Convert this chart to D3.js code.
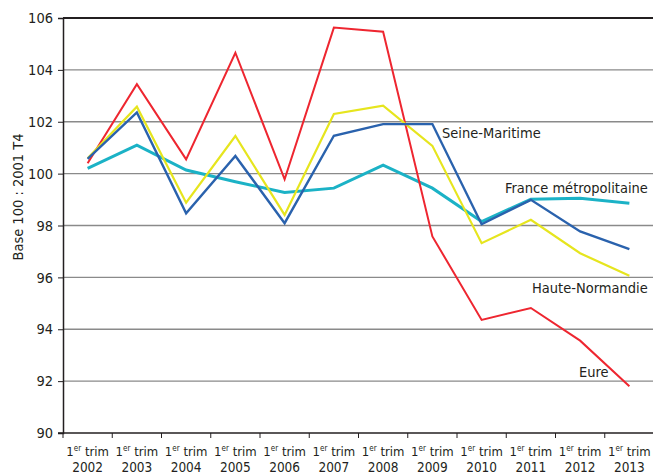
<!DOCTYPE html>
<html>
<head>
<meta charset="utf-8">
<script src="https://cdn.jsdelivr.net/npm/d3@7"></script>
<style>
  body { margin: 0; background: #fff; }
  svg text { font-family: "Liberation Sans Narrow", "DejaVu Sans Condensed", "Roboto", sans-serif; fill: #231f20; }
</style>
</head>
<body>
<div id="chart"></div>
<script>
// data (base 100 : 2001 T4)
var years = ["2002","2003","2004","2005","2006","2007","2008","2009","2010","2011","2012","2013"];
var eure = [100.4, 103.45, 100.55, 104.66, 99.78, 105.63, 105.47, 97.58, 94.36, 94.82, 93.56, 91.8];
var hauteNormandie = [100.59, 102.58, 98.88, 101.45, 98.41, 102.3, 102.62, 101.07, 97.32, 98.22, 96.93, 96.06];
var seineMaritime = [100.57, 102.36, 98.47, 100.68, 98.09, 101.46, 101.91, 101.91, 98.05, 98.99, 97.77, 97.09];
var france = [100.2, 101.1, 100.14, 99.69, 99.27, 99.44, 100.33, 99.44, 98.15, 99.01, 99.05, 98.86];
var yTicks = [90, 92, 94, 96, 98, 100, 102, 104, 106];

var width = 653, height = 475;
var margin = {top: 18, right: -1, bottom: 42, left: 63};

var svg = d3.select("#chart").append("svg")
    .attr("width", width)
    .attr("height", height);

var x = d3.scaleBand()
    .domain(years)
    .range([margin.left, width - margin.right]);

var y = d3.scaleLinear()
    .domain([90, 106])
    .range([height - margin.bottom, margin.top]);

// gridlines
svg.append("g")
  .selectAll("line")
  .data(yTicks.filter(function(d) { return d > 90 && d < 106 }))
  .enter().append("line")
    .attr("x1", margin.left)
    .attr("x2", width)
    .attr("y1", function(d) { return y(d) })
    .attr("y2", function(d) { return y(d) })
    .attr("stroke", "#8a8a8a")
    .attr("stroke-width", 1.3);

// top border
svg.append("line")
    .attr("x1", margin.left).attr("x2", width)
    .attr("y1", y(106)).attr("y2", y(106))
    .attr("stroke", "#231f20").attr("stroke-width", 2.2);

// y axis
var yAxis = svg.append("g")
    .attr("transform", "translate(" + margin.left + ",0)")
    .call(d3.axisLeft(y).tickValues(yTicks).tickSize(5).tickPadding(5));
yAxis.select(".domain").attr("stroke", "#231f20").attr("stroke-width", 1.5);
yAxis.selectAll(".tick line").attr("stroke", "#231f20");
yAxis.selectAll("text").style("font-size", "14.5px").attr("fill", "#231f20");

// x axis: ticks on band boundaries
var xAxis = svg.append("g")
    .attr("transform", "translate(0," + y(90) + ")");
xAxis.append("line")
    .attr("x1", margin.left - 5).attr("x2", width)
    .attr("stroke", "#231f20").attr("stroke-width", 1.5);
xAxis.selectAll(".bt")
  .data(years)
  .enter().append("line")
    .attr("class", "bt")
    .attr("x1", function(d) { return x(d) })
    .attr("x2", function(d) { return x(d) })
    .attr("y1", 0).attr("y2", 5)
    .attr("stroke", "#231f20");

var lab = xAxis.selectAll(".lab")
  .data(years)
  .enter().append("g")
    .attr("class", "lab")
    .attr("transform", function(d) { return "translate(" + (x(d) + x.bandwidth() / 2) + ",0)" });

var l1 = lab.append("text")
    .attr("text-anchor", "middle")
    .attr("y", 23)
    .style("font-size", "13px");
l1.append("tspan").text("1");
l1.append("tspan").text("er").attr("dy", -5).style("font-size", "8px");
l1.append("tspan").text(" trim").attr("dy", 5);

lab.append("text")
    .attr("text-anchor", "middle")
    .attr("y", 39)
    .style("font-size", "13.5px")
    .text(function(d) { return d });

// axis title
svg.append("text")
    .attr("transform", "translate(23," + 197 + ") rotate(-90)")
    .attr("text-anchor", "middle")
    .style("font-size", "14.5px")
    .text("Base 100 : 2001 T4");

// lines
var series = [
  {name: "France métropolitaine", values: france, color: "#1bb2c6", w: 3, lx: 505, ly: 193},
  {name: "Eure", values: eure, color: "#ee2630", w: 2, lx: 579, ly: 377},
  {name: "Haute-Normandie", values: hauteNormandie, color: "#e6e51e", w: 2.2, lx: 532, ly: 293},
  {name: "Seine-Maritime", values: seineMaritime, color: "#2a62ad", w: 2.4, lx: 442, ly: 138}
];

var line = d3.line()
    .x(function(d, i) { return x(years[i]) + x.bandwidth() / 2 })
    .y(function(d) { return y(d) });

svg.append("g")
  .selectAll("path")
  .data(series)
  .enter().append("path")
    .attr("fill", "none")
    .attr("stroke", function(d) { return d.color })
    .attr("stroke-width", function(d) { return d.w })
    .attr("stroke-linejoin", "miter")
    .attr("d", function(d) { return line(d.values) });

svg.append("g")
  .selectAll("text")
  .data(series)
  .enter().append("text")
    .attr("x", function(d) { return d.lx })
    .attr("y", function(d) { return d.ly })
    .style("font-size", "14.5px")
    .text(function(d) { return d.name });
</script>
</body>
</html>
